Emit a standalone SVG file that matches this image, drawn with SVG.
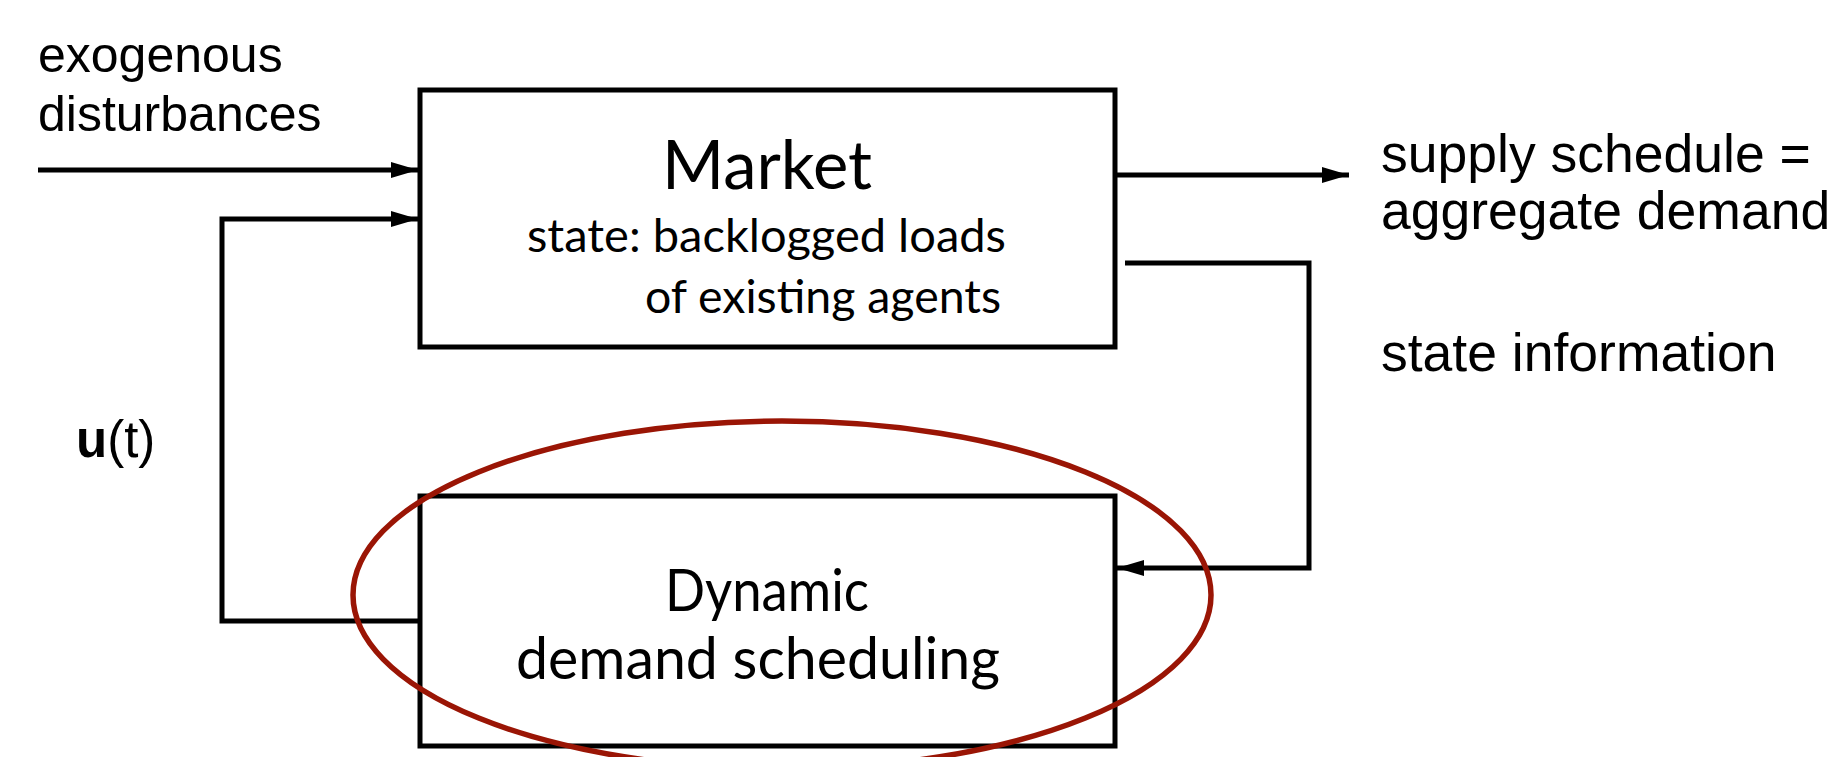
<svg xmlns="http://www.w3.org/2000/svg" width="1830" height="757" viewBox="0 0 1830 757">
<style>
.box{fill:#fff;stroke:#000;stroke-width:5}
.ln{fill:none;stroke:#000;stroke-width:5;stroke-linejoin:miter}
.lbl{font-family:"Liberation Sans",Arial,sans-serif;fill:#000}
.bt{font-family:Lato,"Open Sans",sans-serif;fill:#000}
</style>
<defs>
<marker id="ah" markerUnits="userSpaceOnUse" markerWidth="30" markerHeight="20" refX="27" refY="8" orient="auto">
<path d="M0,0 L27,8 L0,16 Z" fill="#000"/>
</marker>
</defs>
<rect width="1830" height="757" fill="#fff"/>
<g id="connectors">
<line class="ln" x1="38" y1="170" x2="418" y2="170" marker-end="url(#ah)"/>
<polyline class="ln" points="420,621 222,621 222,219 418,219" marker-end="url(#ah)"/>
<line class="ln" x1="1115" y1="175" x2="1349" y2="175" marker-end="url(#ah)"/>
<polyline class="ln" points="1125,263 1309,263 1309,568 1117,568" marker-end="url(#ah)"/>
</g>
<g id="market">
<rect class="box" x="420" y="90" width="695" height="257"/>
<text class="bt" x="767" y="189" font-size="68" text-anchor="middle" textLength="210" lengthAdjust="spacingAndGlyphs">Market</text>
<text class="bt" x="527" y="252" font-size="47" textLength="479" lengthAdjust="spacingAndGlyphs">state: backlogged loads</text>
<text class="bt" x="645" y="313" font-size="47" textLength="356" lengthAdjust="spacingAndGlyphs">of existing agents</text>
</g>
<g id="scheduler">
<rect class="box" x="420" y="496" width="695" height="250"/>
<text class="bt" x="767" y="611" font-size="58" text-anchor="middle" textLength="204" lengthAdjust="spacingAndGlyphs">Dynamic</text>
<text class="bt" x="758" y="679" font-size="58" text-anchor="middle" textLength="484" lengthAdjust="spacingAndGlyphs">demand scheduling</text>
</g>
<g id="labels">
<text class="lbl" x="38" y="72" font-size="50">exogenous</text>
<text class="lbl" x="38" y="131" font-size="50">disturbances</text>
<text class="lbl" x="1381" y="172" font-size="53.5">supply schedule =</text>
<text class="lbl" x="1381" y="229" font-size="53.5">aggregate demand</text>
<text class="lbl" x="1381" y="371" font-size="53.5">state information</text>
<text class="lbl" x="76" y="457" font-size="51"><tspan font-weight="bold">u</tspan>(t)</text>
</g>
<g id="highlight">
<ellipse cx="782" cy="595" rx="429" ry="174" fill="none" stroke="#9a1505" stroke-width="5.5"/>
</g>
</svg>
